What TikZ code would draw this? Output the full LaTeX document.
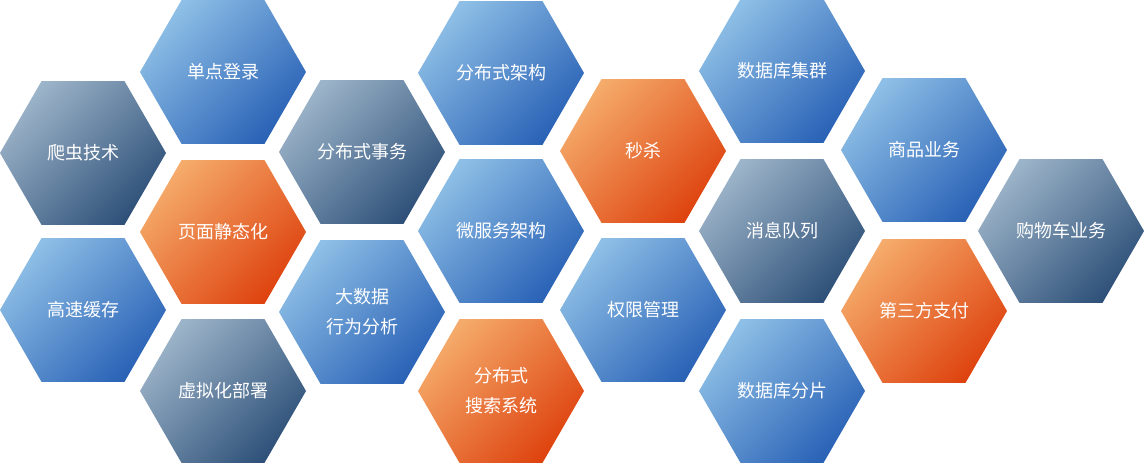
\documentclass[tikz,border=0pt]{standalone}
\usepackage{fontspec}
\setmainfont{Noto Sans CJK SC}
\usepackage{tikz}
\usetikzlibrary{shapes.geometric, positioning, calc}
\definecolor{bluelight}{HTML}{8EBFE6}
\definecolor{bluedark}{HTML}{2A62B6}
\definecolor{slatelight}{HTML}{9CB4C9}
\definecolor{slatedark}{HTML}{2F5179}
\definecolor{orangelight}{HTML}{F5AB6B}
\definecolor{orangedark}{HTML}{DE430F}
\tikzstyle{hexa} = [regular polygon, regular polygon sides=6, minimum size=166*0.75pt, inner sep=0pt, draw=none, text=white, align=center, font=\fontsize{13.5pt}{22.5pt}\selectfont]
\tikzstyle{bluehex} = [hexa, top color=bluelight, bottom color=bluedark, shading angle=45]
\tikzstyle{slatehex} = [hexa, top color=slatelight, bottom color=slatedark, shading angle=45]
\tikzstyle{orangehex} = [hexa, top color=orangelight, bottom color=orangedark, shading angle=45]

\begin{document}
\begin{tikzpicture}[x=0.75pt, y=-0.75pt]
\useasboundingbox (0,0) rectangle (1144,463);

% ===== COLUMN 1 =====
\node (crawler) [slatehex] at (83, 153) {爬虫技术};
\node (cache) [bluehex] at (83, 310) {高速缓存};

% ===== COLUMN 2 =====
\node (sso) [bluehex] at (223, 72) {单点登录};
\node (staticpage) [orangehex] at (223, 232) {页面静态化};
\node (virtual) [slatehex] at (223, 391) {虚拟化部署};

% ===== COLUMN 3 =====
\node (disttrans) [slatehex] at (362, 152) {分布式事务};
\node (bigdata) [bluehex] at (362, 312) {大数据\\行为分析};

% ===== COLUMN 4 =====
\node (distarch) [bluehex] at (501, 73) {分布式架构};
\node (microsvc) [bluehex] at (501, 231) {微服务架构};
\node (search) [orangehex] at (501, 391) {分布式\\搜索系统};

% ===== COLUMN 5 =====
\node (seckill) [orangehex] at (643, 151) {秒杀};
\node (auth) [bluehex] at (643, 310) {权限管理};

% ===== COLUMN 6 =====
\node (dbcluster) [bluehex] at (782, 71) {数据库集群};
\node (mq) [slatehex] at (782, 231) {消息队列};
\node (dbshard) [bluehex] at (782, 391) {数据库分片};

% ===== COLUMN 7 =====
\node (goods) [bluehex] at (924, 150) {商品业务};
\node (payment) [orangehex] at (924, 311) {第三方支付};

% ===== COLUMN 8 =====
\node (cart) [slatehex] at (1061, 231) {购物车业务};

\end{tikzpicture}
\end{document}
